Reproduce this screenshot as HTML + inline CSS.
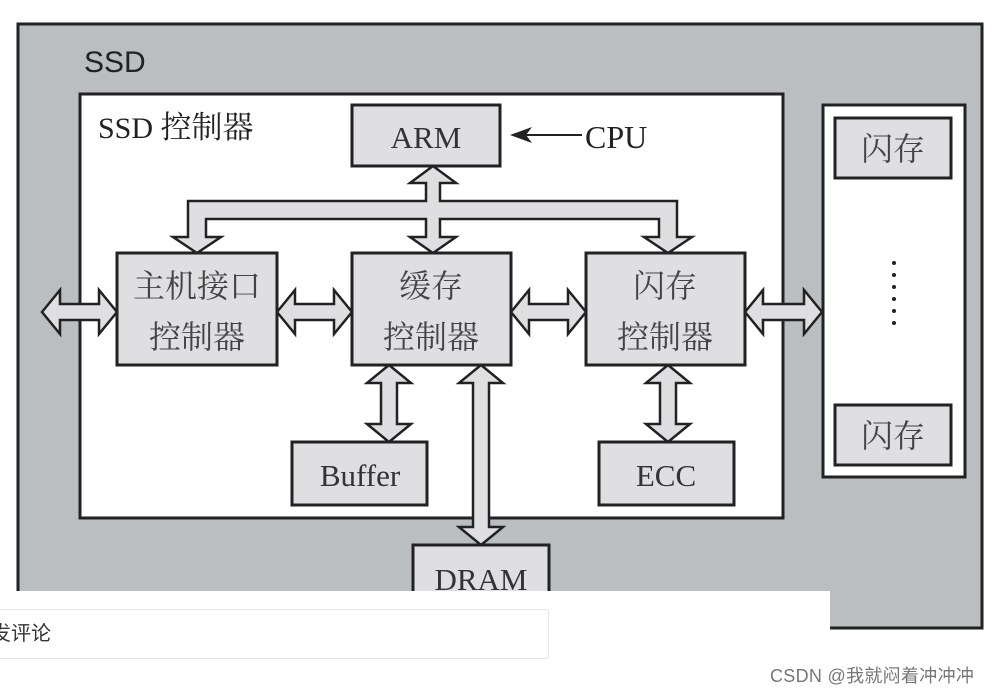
<!DOCTYPE html>
<html><head><meta charset="utf-8"><style>
html,body{margin:0;padding:0;background:#fff;width:996px;height:693px;overflow:hidden;position:relative}
svg{position:absolute;left:0;top:0}
.ov{position:absolute;left:0;top:591px;width:830px;height:102px;background:#fff}
.inp{position:absolute;left:-10px;top:609px;width:557px;height:48px;border:1px solid #e8e8e8;border-radius:3px;font:20px "Liberation Sans","Noto Sans CJK SC",sans-serif;color:#333;line-height:48px;text-indent:0}
.wm{position:absolute;left:770px;top:662px;font:18px "Liberation Sans","Noto Sans CJK SC",sans-serif;color:#777;letter-spacing:0.3px}
</style></head><body>
<svg width="996" height="693" viewBox="0 0 996 693" font-family="'Liberation Serif','Noto Serif CJK SC',serif">
<rect x="18" y="24" width="964" height="604" fill="#bbbec1" stroke="#222" stroke-width="3"/>
<text x="84" y="72" font-family="'Liberation Sans',sans-serif" font-size="30" fill="#222">SSD</text>
<rect x="80" y="94" width="703" height="424" fill="#fff" stroke="#222" stroke-width="3"/>
<text x="98" y="138" font-size="30" fill="#222">SSD <tspan font-family="'Noto Serif CJK SC',serif" font-size="31">控制器</tspan></text>
<rect x="823" y="105" width="142" height="372" fill="#fff" stroke="#222" stroke-width="3"/>
<g fill="#dfdfe1" stroke="#222" stroke-width="3">
<rect x="352" y="105" width="148" height="61"/>
<rect x="117" y="253" width="160" height="112"/>
<rect x="352" y="253" width="159" height="112"/>
<rect x="586" y="253" width="159" height="112"/>
<rect x="292" y="442" width="135" height="63"/>
<rect x="599" y="442" width="135" height="63"/>
<rect x="413" y="545" width="136" height="60"/>
<rect x="835" y="118" width="116" height="60"/>
<rect x="835" y="405" width="116" height="60"/>
</g>
<g fill="#dfdfe1" stroke="#222" stroke-width="2.5" stroke-linejoin="miter">
<polygon points="188,201 426,201 426,183 410,183 433,166 456,183 440,183 440,201 677,201 677,237 692,237 668,253 644,237 659,237 659,219 440,219 440,237 456,237 433,253 410,237 426,237 426,219 206,219 206,237 221,237 197,253 173,237 188,237"/>
<polygon points="42,312 60,290 60,304 99,304 99,290 117,312 99,334 99,320 60,320 60,334"/>
<polygon points="277,312 295,290 295,304 334,304 334,290 352,312 334,334 334,320 295,320 295,334"/>
<polygon points="511,312 529,290 529,304 568,304 568,290 586,312 568,334 568,320 529,320 529,334"/>
<polygon points="745,312 763,290 763,304 804,304 804,290 822,312 804,334 804,320 763,320 763,334"/>
<polygon points="389,365 411,383 397,383 397,424 411,424 389,442 367,424 381,424 381,383 367,383"/>
<polygon points="668,365 690,383 676,383 676,424 690,424 668,442 646,424 660,424 660,383 646,383"/>
<polygon points="481,365 503,383 489,383 489,527 503,527 481,545 459,527 473,527 473,383 459,383"/>
</g>
<line x1="520" y1="135" x2="582" y2="135" stroke="#222" stroke-width="2"/>
<polygon points="510,135 532,127 526,135 532,143" fill="#222"/>
<text x="585" y="148" font-size="32" fill="#222">CPU</text>
<g fill="#333" font-size="31" text-anchor="middle">
<text x="426" y="148">ARM</text>
<text x="360" y="486">Buffer</text>
<text x="666" y="486">ECC</text>
<text x="481" y="590">DRAM</text>
</g>
<g fill="#444" font-size="32" text-anchor="middle" font-family="'Noto Serif CJK SC',serif">
<text x="197" y="297">主机接口</text>
<text x="197" y="348">控制器</text>
<text x="431" y="297">缓存</text>
<text x="431" y="348">控制器</text>
<text x="665" y="297">闪存</text>
<text x="665" y="348">控制器</text>
<text x="893" y="160">闪存</text>
<text x="893" y="447">闪存</text>
</g>
<g fill="#222">
<circle cx="894" cy="263" r="2"/><circle cx="894" cy="275" r="2"/><circle cx="894" cy="287" r="2"/><circle cx="894" cy="299" r="2"/><circle cx="894" cy="311" r="2"/><circle cx="894" cy="323" r="2"/>
</g>
</svg>
<div class="ov"></div>
<div class="inp">发评论</div>
<div class="wm">CSDN @我就闷着冲冲冲</div>
</body></html>
